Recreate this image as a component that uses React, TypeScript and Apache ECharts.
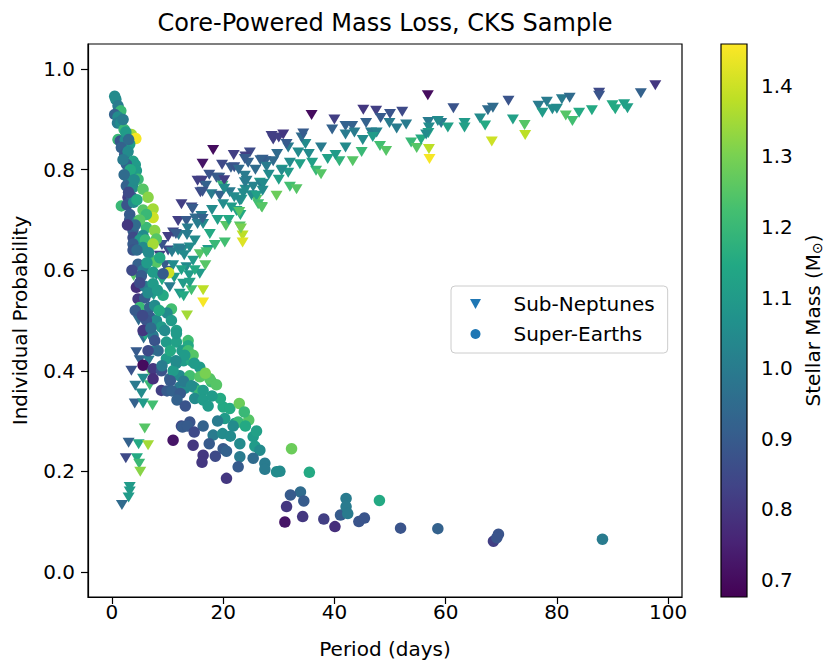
import React, { useEffect, useRef } from "react";
import * as echarts from "echarts";

// ---- axis ticks / ranges ----
const xTicks = [0, 20, 40, 60, 80, 100];
const yTicks = [0, 0.2, 0.4, 0.6, 0.8, 1.0];
const massTicks = [0.7, 0.8, 0.9, 1.0, 1.1, 1.2, 1.3, 1.4];
const massMin = 0.676;
const massMax = 1.459;

const viridis = [
  "#440154", "#482475", "#414487", "#355f8d", "#2a788e", "#21918c",
  "#22a884", "#44bf70", "#7ad151", "#bddf26", "#fde725",
];

// ---- Sub-Neptunes: [period (days), probability, stellar mass] ----
const subNeptunesLong = [
  [56.8, 0.948, 0.70], [52.2, 0.915, 0.85], [52.9, 0.890, 1.00], [53.8, 0.854, 1.20],
  [54.8, 0.843, 1.25], [55.6, 0.860, 1.15], [56.9, 0.895, 1.00], [57.0, 0.884, 1.05],
  [56.9, 0.873, 1.12], [57.0, 0.841, 1.38], [57.1, 0.821, 1.45], [59.2, 0.893, 1.00],
  [60.4, 0.884, 1.12], [61.4, 0.922, 0.88], [63.4, 0.893, 1.10], [63.4, 0.884, 1.12],
  [66.2, 0.902, 1.05], [67.1, 0.888, 1.15], [67.6, 0.918, 0.95], [68.5, 0.923, 0.95],
  [68.3, 0.856, 1.40], [71.3, 0.937, 0.88], [72.1, 0.900, 1.12], [74.2, 0.889, 1.25],
  [74.3, 0.869, 1.38], [76.7, 0.927, 1.00], [78.2, 0.935, 1.00], [77.4, 0.913, 1.10],
  [79.2, 0.920, 1.05], [80.0, 0.921, 1.05], [80.9, 0.940, 1.00], [82.3, 0.943, 0.95],
  [81.6, 0.908, 1.25], [82.8, 0.897, 1.22], [84.0, 0.913, 1.15], [86.3, 0.918, 1.15],
  [87.6, 0.953, 0.85], [87.6, 0.947, 0.88], [90.0, 0.928, 1.15], [90.5, 0.920, 1.15],
  [92.1, 0.930, 1.12], [92.7, 0.922, 1.12], [95.1, 0.952, 0.92], [97.7, 0.968, 0.80],
  [56.5, 0.870, 1.05], [58.6, 0.897, 1.05],
];

const subNeptunesMid = [
  [35.9, 0.909, 0.70], [45.2, 0.919, 0.80], [47.5, 0.917, 0.82], [50.0, 0.911, 0.88],
  [40.0, 0.900, 0.82], [39.6, 0.880, 0.92], [42.0, 0.887, 0.92], [43.2, 0.887, 0.92],
  [42.0, 0.870, 1.00], [43.6, 0.874, 1.00], [45.1, 0.859, 1.05], [45.7, 0.893, 0.92],
  [46.6, 0.874, 1.00], [47.6, 0.874, 1.02], [48.3, 0.903, 0.90], [49.9, 0.893, 1.00],
  [51.2, 0.882, 1.00], [46.9, 0.865, 1.10], [48.2, 0.847, 1.22], [49.3, 0.837, 1.25],
  [44.9, 0.835, 1.20], [43.3, 0.817, 1.25], [42.0, 0.844, 1.05], [40.9, 0.817, 1.18],
  [40.2, 0.829, 1.10], [38.8, 0.821, 1.12], [37.6, 0.844, 1.00], [35.4, 0.831, 1.05],
  [36.7, 0.798, 1.20], [37.6, 0.791, 1.25], [36.0, 0.814, 1.12], [34.8, 0.851, 1.05],
  [34.1, 0.864, 0.95], [34.4, 0.872, 0.90], [33.8, 0.811, 1.12], [33.5, 0.834, 1.05],
  [31.7, 0.844, 1.00], [32.0, 0.814, 1.05], [31.7, 0.794, 1.10], [30.6, 0.800, 1.10],
  [32.0, 0.766, 1.22], [33.2, 0.761, 1.25], [30.5, 0.798, 1.05], [30.0, 0.864, 0.82],
  [30.8, 0.870, 0.80], [29.0, 0.860, 0.82], [31.4, 0.851, 0.90], [29.7, 0.831, 0.95],
  [29.0, 0.817, 0.95], [27.6, 0.817, 0.92], [27.1, 0.820, 0.90], [24.8, 0.834, 0.85],
  [24.5, 0.814, 0.92], [24.0, 0.826, 0.82], [29.6, 0.748, 1.28], [26.6, 0.774, 1.10],
  [26.0, 0.740, 1.25], [26.9, 0.726, 1.25], [26.9, 0.770, 1.00], [24.2, 0.778, 1.00],
  [24.0, 0.760, 1.05], [23.3, 0.740, 1.10], [25.8, 0.800, 0.95], [28.2, 0.790, 1.05],
  [30.0, 0.780, 1.12],
];

const subNeptunesShort = [
  [18.2, 0.839, 0.70], [16.3, 0.812, 0.72], [21.9, 0.829, 0.82], [23.9, 0.821, 0.90],
  [21.4, 0.804, 0.90], [22.0, 0.805, 0.88], [26.7, 0.819, 0.92], [27.8, 0.806, 1.00],
  [28.7, 0.867, 0.82], [16.2, 0.778, 0.82], [18.8, 0.784, 0.90], [19.3, 0.784, 0.90],
  [16.9, 0.768, 0.92], [15.9, 0.755, 0.85], [17.9, 0.751, 1.00], [19.4, 0.748, 0.92],
  [19.9, 0.768, 1.20], [23.9, 0.788, 1.00], [23.9, 0.775, 1.00], [25.4, 0.766, 1.02],
  [27.2, 0.772, 1.05], [21.2, 0.755, 1.00], [23.6, 0.753, 1.05], [25.1, 0.749, 1.05],
  [26.0, 0.748, 1.12], [23.0, 0.738, 1.05], [20.0, 0.731, 1.05], [21.5, 0.725, 1.10],
  [22.4, 0.718, 1.12], [23.1, 0.710, 1.15], [26.3, 0.731, 1.22], [27.0, 0.725, 1.25],
  [12.5, 0.731, 0.82], [14.3, 0.725, 0.85], [11.9, 0.698, 0.82], [13.4, 0.698, 0.90],
  [16.1, 0.708, 1.00], [15.0, 0.703, 0.95], [16.4, 0.692, 1.05], [17.6, 0.672, 1.15],
  [20.5, 0.688, 1.25], [23.0, 0.687, 1.25], [20.3, 0.655, 1.22], [23.5, 0.669, 1.38],
  [23.5, 0.655, 1.42], [11.0, 0.675, 0.85], [12.0, 0.670, 1.00], [13.5, 0.670, 1.00],
  [14.9, 0.659, 1.05], [14.0, 0.645, 1.05], [15.8, 0.632, 1.25], [12.0, 0.643, 1.00],
  [12.8, 0.641, 1.05], [17.3, 0.640, 1.10], [10.1, 0.666, 0.82], [11.5, 0.672, 0.90],
  [13.6, 0.683, 1.00], [15.4, 0.692, 1.00], [16.3, 0.702, 0.92], [23.2, 0.683, 1.30],
  [14.5, 0.722, 0.90], [20.2, 0.779, 0.82], [15.4, 0.778, 0.82], [16.3, 0.756, 0.88],
  [20.2, 0.762, 1.05], [27.1, 0.758, 1.05], [22.9, 0.716, 1.25], [18.5, 0.650, 1.20],
  [19.0, 0.700, 1.12], [18.0, 0.720, 1.05], [21.0, 0.700, 1.15], [22.0, 0.745, 1.05],
  [17.5, 0.790, 0.88], [19.8, 0.810, 0.85], [22.8, 0.800, 0.95],
];

const subNeptunesLow = [
  [10.1, 0.639, 0.85], [11.9, 0.639, 1.05], [12.3, 0.640, 1.00], [13.0, 0.630, 1.05],
  [17.0, 0.636, 1.22], [14.6, 0.619, 1.10], [13.4, 0.606, 1.05], [15.8, 0.593, 1.10],
  [13.9, 0.590, 1.10], [12.8, 0.573, 1.10], [14.3, 0.560, 1.22], [16.4, 0.560, 1.38],
  [14.0, 0.575, 1.12], [16.4, 0.536, 1.45], [13.5, 0.510, 1.35], [12.2, 0.553, 1.10],
  [12.9, 0.548, 1.15], [10.4, 0.566, 1.00], [10.8, 0.636, 1.00], [10.1, 0.599, 0.90],
  [9.5, 0.610, 0.90], [8.6, 0.629, 0.82], [3.9, 0.589, 1.25], [5.7, 0.464, 0.95],
  [4.4, 0.437, 0.90], [5.0, 0.421, 0.92], [6.6, 0.420, 1.00], [7.4, 0.440, 1.05],
  [5.6, 0.384, 1.05], [6.8, 0.371, 1.20], [5.3, 0.355, 1.05], [4.1, 0.335, 0.92],
  [5.6, 0.335, 1.10], [7.3, 0.331, 1.22], [5.9, 0.285, 1.25], [3.0, 0.257, 0.92],
  [4.8, 0.254, 1.15], [6.5, 0.252, 1.35], [2.5, 0.226, 0.85], [4.5, 0.226, 1.15],
  [4.9, 0.215, 1.20], [5.1, 0.199, 1.32], [3.2, 0.169, 1.10], [3.2, 0.160, 1.10],
  [3.0, 0.148, 1.10], [1.8, 0.133, 0.95], [6.0, 0.600, 1.10], [7.0, 0.620, 1.20],
  [8.0, 0.590, 1.05], [9.0, 0.580, 1.15], [11.0, 0.610, 1.05], [11.2, 0.585, 1.10],
  [12.5, 0.600, 1.12], [14.9, 0.600, 1.15], [16.8, 0.610, 1.25], [9.0, 0.650, 0.88],
  [7.5, 0.550, 1.10], [6.3, 0.520, 1.05], [4.8, 0.500, 0.95], [6.0, 0.470, 1.15],
  [3.5, 0.400, 0.88], [4.2, 0.370, 1.00], [7.0, 0.395, 1.25],
];

// ---- Super-Earths: [period (days), probability, stellar mass] ----
const superEarthsTop = [
  [0.5, 0.946, 1.05], [0.7, 0.940, 1.05], [1.1, 0.927, 1.00], [1.6, 0.917, 1.20],
  [0.5, 0.910, 0.92], [1.1, 0.905, 1.05], [1.0, 0.893, 1.00], [1.6, 0.893, 1.05],
  [2.2, 0.880, 1.20], [3.5, 0.870, 1.35], [4.3, 0.862, 1.45], [1.1, 0.860, 1.20],
  [1.5, 0.857, 0.88], [2.4, 0.860, 1.05], [3.2, 0.851, 1.10], [1.7, 0.844, 0.92],
  [2.3, 0.830, 0.90], [2.9, 0.836, 1.05], [3.8, 0.817, 1.12], [4.2, 0.810, 1.10],
  [2.6, 0.811, 0.92], [4.4, 0.798, 1.10], [4.7, 0.781, 1.20], [2.9, 0.784, 1.05],
  [2.6, 0.768, 0.92], [3.8, 0.765, 1.05], [5.6, 0.761, 1.25], [6.5, 0.745, 1.32],
  [2.9, 0.745, 0.82], [3.6, 0.745, 0.90], [1.7, 0.728, 1.20], [2.7, 0.730, 0.88],
  [3.9, 0.735, 1.05], [5.6, 0.720, 1.25], [7.4, 0.722, 1.35], [7.4, 0.705, 1.40],
  [6.2, 0.711, 1.20], [3.2, 0.711, 0.90], [3.2, 0.700, 0.90], [4.7, 0.698, 1.10],
  [6.2, 0.685, 1.20], [7.7, 0.679, 1.32], [8.0, 0.662, 1.25], [3.8, 0.679, 0.90],
  [3.8, 0.665, 0.85], [5.6, 0.669, 1.05], [5.0, 0.660, 1.10], [2.0, 0.900, 1.00],
  [2.5, 0.875, 1.10], [3.0, 0.860, 0.95], [2.0, 0.820, 1.00], [3.3, 0.800, 1.15],
  [2.2, 0.790, 0.95], [4.0, 0.780, 1.05], [3.0, 0.755, 0.85], [4.5, 0.740, 1.15],
  [5.0, 0.700, 1.25], [4.2, 0.690, 0.95], [2.8, 0.690, 0.80], [6.0, 0.660, 1.20],
];

const superEarthsMid = [
  [3.8, 0.652, 0.90], [3.8, 0.640, 0.88], [5.6, 0.645, 1.05], [7.4, 0.652, 1.35],
  [8.0, 0.616, 1.25], [6.6, 0.635, 1.05], [4.7, 0.612, 0.92], [5.6, 0.600, 1.00],
  [7.4, 0.596, 1.10], [10.2, 0.595, 1.40], [9.2, 0.593, 0.90], [5.3, 0.589, 0.90],
  [4.4, 0.566, 0.78], [5.9, 0.568, 1.00], [7.4, 0.573, 1.10], [9.2, 0.550, 1.15],
  [4.7, 0.543, 0.80], [5.9, 0.545, 0.90], [5.0, 0.526, 1.20], [6.8, 0.526, 0.92],
  [7.7, 0.530, 1.05], [10.7, 0.523, 1.22], [9.9, 0.515, 1.05], [6.8, 0.507, 0.90],
  [8.0, 0.500, 1.05], [8.9, 0.487, 1.10], [11.6, 0.480, 1.12], [6.2, 0.500, 0.88],
  [5.6, 0.480, 0.80], [7.4, 0.470, 1.00], [10.7, 0.500, 1.10], [7.7, 0.460, 0.88],
  [9.8, 0.457, 1.10], [11.6, 0.457, 1.12], [13.7, 0.460, 1.22], [13.7, 0.450, 1.15],
  [12.6, 0.440, 1.10], [9.8, 0.424, 1.10], [11.6, 0.415, 1.05], [12.9, 0.420, 1.10],
  [14.3, 0.420, 1.15], [15.8, 0.407, 1.10], [5.6, 0.411, 0.70], [7.4, 0.404, 0.80],
  [8.9, 0.400, 0.88], [10.4, 0.384, 0.92], [7.4, 0.384, 0.78], [12.2, 0.390, 1.05],
  [14.0, 0.390, 1.22], [15.8, 0.388, 1.25], [17.9, 0.378, 1.22], [8.9, 0.361, 0.82],
  [9.9, 0.360, 0.90], [12.2, 0.368, 1.00], [13.1, 0.365, 1.05], [14.8, 0.367, 1.10],
  [15.8, 0.360, 1.20], [4.5, 0.640, 0.95], [6.3, 0.615, 1.10], [8.6, 0.625, 1.15],
  [5.0, 0.575, 0.85], [6.5, 0.555, 1.05], [8.2, 0.560, 1.10], [3.6, 0.600, 0.85],
  [4.2, 0.520, 0.90], [5.5, 0.510, 0.85], [8.5, 0.520, 1.15], [9.5, 0.480, 1.05],
  [7.0, 0.485, 0.95], [10.5, 0.440, 1.15], [8.3, 0.440, 0.95], [6.5, 0.440, 0.85],
  [9.0, 0.410, 1.00], [11.0, 0.400, 1.10],
];

const superEarthsLow = [
  [11.6, 0.474, 1.10], [13.7, 0.440, 1.22], [14.6, 0.431, 1.25], [13.1, 0.431, 1.10],
  [11.5, 0.420, 1.05], [14.8, 0.415, 1.10], [17.6, 0.384, 1.25], [10.5, 0.380, 0.90],
  [12.9, 0.379, 1.00], [14.3, 0.370, 1.05], [16.4, 0.361, 1.10], [10.8, 0.360, 0.92],
  [12.3, 0.355, 0.90], [11.7, 0.342, 0.92], [13.2, 0.330, 0.88], [14.9, 0.345, 1.05],
  [16.4, 0.342, 1.10], [17.3, 0.330, 1.10], [20.0, 0.328, 1.15], [21.2, 0.325, 1.15],
  [22.9, 0.335, 1.28], [20.3, 0.305, 1.10], [22.1, 0.295, 1.10], [22.7, 0.298, 1.20],
  [24.6, 0.302, 1.25], [21.8, 0.290, 1.05], [14.0, 0.298, 0.88], [12.5, 0.290, 0.85],
  [16.4, 0.290, 0.92], [18.2, 0.272, 1.00], [19.9, 0.275, 1.05], [21.3, 0.270, 1.05],
  [25.4, 0.269, 1.10], [23.0, 0.255, 1.05], [25.7, 0.250, 1.10], [26.6, 0.242, 1.05],
  [32.3, 0.245, 1.28], [11.0, 0.262, 0.72], [14.6, 0.252, 0.80], [16.4, 0.232, 0.80],
  [16.2, 0.218, 0.80], [20.0, 0.245, 0.90], [20.6, 0.240, 0.92], [23.0, 0.229, 1.00],
  [25.4, 0.226, 0.95], [22.7, 0.209, 0.90], [27.5, 0.216, 1.00], [27.5, 0.204, 1.00],
  [29.6, 0.199, 1.05], [20.6, 0.186, 0.80], [12.7, 0.288, 0.90], [13.6, 0.290, 0.90],
  [14.8, 0.278, 0.85], [16.8, 0.395, 1.30], [18.8, 0.372, 1.25], [19.5, 0.345, 1.15],
  [18.0, 0.350, 1.10], [23.8, 0.318, 1.20], [24.0, 0.290, 1.15], [26.0, 0.280, 1.12],
  [19.0, 0.300, 1.00], [17.5, 0.255, 0.90], [18.6, 0.230, 0.85],
];

const superEarthsTail = [
  [35.5, 0.198, 1.15], [30.2, 0.200, 1.05], [33.9, 0.159, 0.95], [32.1, 0.153, 0.90],
  [34.5, 0.141, 0.90], [31.4, 0.130, 0.80], [31.1, 0.099, 0.72], [34.3, 0.110, 0.80],
  [38.1, 0.105, 0.82], [40.1, 0.090, 0.78], [41.1, 0.113, 0.90], [42.1, 0.146, 1.00],
  [42.1, 0.130, 1.00], [42.4, 0.116, 1.00], [44.4, 0.100, 0.88], [45.4, 0.107, 0.88],
  [48.1, 0.142, 1.15], [51.9, 0.087, 0.88], [58.6, 0.086, 0.92], [69.5, 0.075, 0.88],
  [68.6, 0.061, 0.82], [69.2, 0.068, 0.88], [88.2, 0.065, 1.00],
];

const subNeptunes = [...subNeptunesLong, ...subNeptunesMid, ...subNeptunesShort, ...subNeptunesLow];
const superEarths = [...superEarthsTop, ...superEarthsMid, ...superEarthsLow, ...superEarthsTail];

const FONT = "DejaVu Sans";
const triPath = "path://M0,0L11,0L5.5,10Z";

export default function App() {
  const ref = useRef<HTMLDivElement>(null);

  useEffect(() => {
    if (!ref.current) return;
    const chart = echarts.init(ref.current, undefined, { renderer: "svg" });
    const fmt1 = (v: number) => v.toFixed(1);

    chart.setOption({
      animation: false,
      backgroundColor: "#ffffff",
      textStyle: { fontFamily: FONT },
      title: {
        text: "Core-Powered Mass Loss, CKS Sample",
        left: 385,
        top: 11,
        textAlign: "center",
        padding: 0,
        textStyle: { fontFamily: FONT, fontSize: 24, fontWeight: "normal", color: "#000" },
      },
      legend: {
        orient: "vertical",
        left: 451,
        top: 286,
        padding: [8, 13, 9, 19],
        itemGap: 10,
        itemWidth: 20,
        itemHeight: 10,
        backgroundColor: "rgba(255,255,255,0.8)",
        borderColor: "#cccccc",
        borderWidth: 1,
        borderRadius: 4,
        textStyle: { fontFamily: FONT, fontSize: 20, color: "#000", padding: [0, 0, 0, 23] },
        data: [
          { name: "Sub-Neptunes", icon: triPath, itemStyle: { color: "#1f77b4" } },
          { name: "Super-Earths", icon: "circle", itemStyle: { color: "#1f77b4" } },
        ],
      },
      visualMap: {
        type: "continuous",
        show: false,
        min: massMin,
        max: massMax,
        dimension: 2,
        seriesIndex: [0, 1],
        inRange: { color: viridis },
      },
      grid: [
        { left: 88, top: 44, width: 594, height: 553, show: true, borderColor: "#000", borderWidth: 1.2, backgroundColor: "transparent" },
        { left: 721, top: 44, width: 26, height: 553, show: false },
      ],
      xAxis: [
        {
          gridIndex: 0,
          type: "value",
          min: -4.3,
          max: 102.5,
          name: "Period (days)",
          nameLocation: "middle",
          nameGap: 42,
          nameTextStyle: { fontFamily: FONT, fontSize: 20, color: "#000" },
          axisLine: { show: true, onZero: false, lineStyle: { color: "#000", width: 1.2 } },
          axisTick: { show: true, length: 7, customValues: xTicks, lineStyle: { color: "#000", width: 1.2 } },
          axisLabel: { customValues: xTicks, margin: 5, fontFamily: FONT, fontSize: 20, color: "#000" },
          splitLine: { show: false },
        },
        { gridIndex: 1, type: "value", min: 0, max: 1, show: false },
      ],
      yAxis: [
        {
          gridIndex: 0,
          type: "value",
          min: -0.05,
          max: 1.05,
          name: "Individual Probability",
          nameLocation: "middle",
          nameGap: 58,
          nameTextStyle: { fontFamily: FONT, fontSize: 20, color: "#000" },
          axisLine: { show: true, onZero: false, lineStyle: { color: "#000", width: 1.2 } },
          axisTick: { show: true, length: 7, customValues: yTicks, lineStyle: { color: "#000", width: 1.2 } },
          axisLabel: { customValues: yTicks, formatter: fmt1, margin: 13, fontFamily: FONT, fontSize: 20, color: "#000" },
          splitLine: { show: false },
        },
        {
          gridIndex: 1,
          type: "value",
          position: "right",
          min: massMin,
          max: massMax,
          name: "Stellar Mass (M{sub|⊙})",
          nameLocation: "middle",
          nameGap: 55,
          nameTextStyle: {
            fontFamily: FONT,
            fontSize: 20,
            color: "#000",
            rich: { sub: { fontFamily: FONT, fontSize: 14, color: "#000", verticalAlign: "bottom", padding: [8, 0, 0, 0] } },
          },
          axisLine: { show: false },
          axisTick: { show: true, length: 7, customValues: massTicks, lineStyle: { color: "#000", width: 1.2 } },
          axisLabel: { customValues: massTicks, formatter: fmt1, margin: 14, fontFamily: FONT, fontSize: 20, color: "#000" },
          splitLine: { show: false },
        },
      ],
      series: [
        {
          name: "Sub-Neptunes",
          type: "scatter",
          xAxisIndex: 0,
          yAxisIndex: 0,
          symbol: "triangle",
          symbolRotate: 180,
          symbolSize: [12, 10],
          itemStyle: { color: "#1f77b4", opacity: 1 },
          data: subNeptunes,
          z: 2,
        },
        {
          name: "Super-Earths",
          type: "scatter",
          xAxisIndex: 0,
          yAxisIndex: 0,
          symbol: "circle",
          symbolSize: 11.5,
          itemStyle: { color: "#1f77b4", opacity: 1 },
          data: superEarths,
          z: 3,
        },
        {
          type: "custom",
          xAxisIndex: 1,
          yAxisIndex: 1,
          silent: true,
          data: [[0, massMin]],
          renderItem: (_params: any, api: any) => {
            const tl = api.coord([0, massMax]);
            const br = api.coord([1, massMin]);
            return {
              type: "rect",
              shape: { x: tl[0], y: tl[1], width: br[0] - tl[0], height: br[1] - tl[1] },
              style: {
                fill: new echarts.graphic.LinearGradient(
                  0, 1, 0, 0,
                  viridis.map((c, i) => ({ offset: i / (viridis.length - 1), color: c }))
                ),
                stroke: "#000",
                lineWidth: 1.2,
              },
            };
          },
        },
      ],
    });

    return () => chart.dispose();
  }, []);

  return (
    <div
      ref={ref}
      style={{ position: "fixed", left: 0, top: 0, width: 828, height: 665, background: "#fff" }}
    />
  );
}
